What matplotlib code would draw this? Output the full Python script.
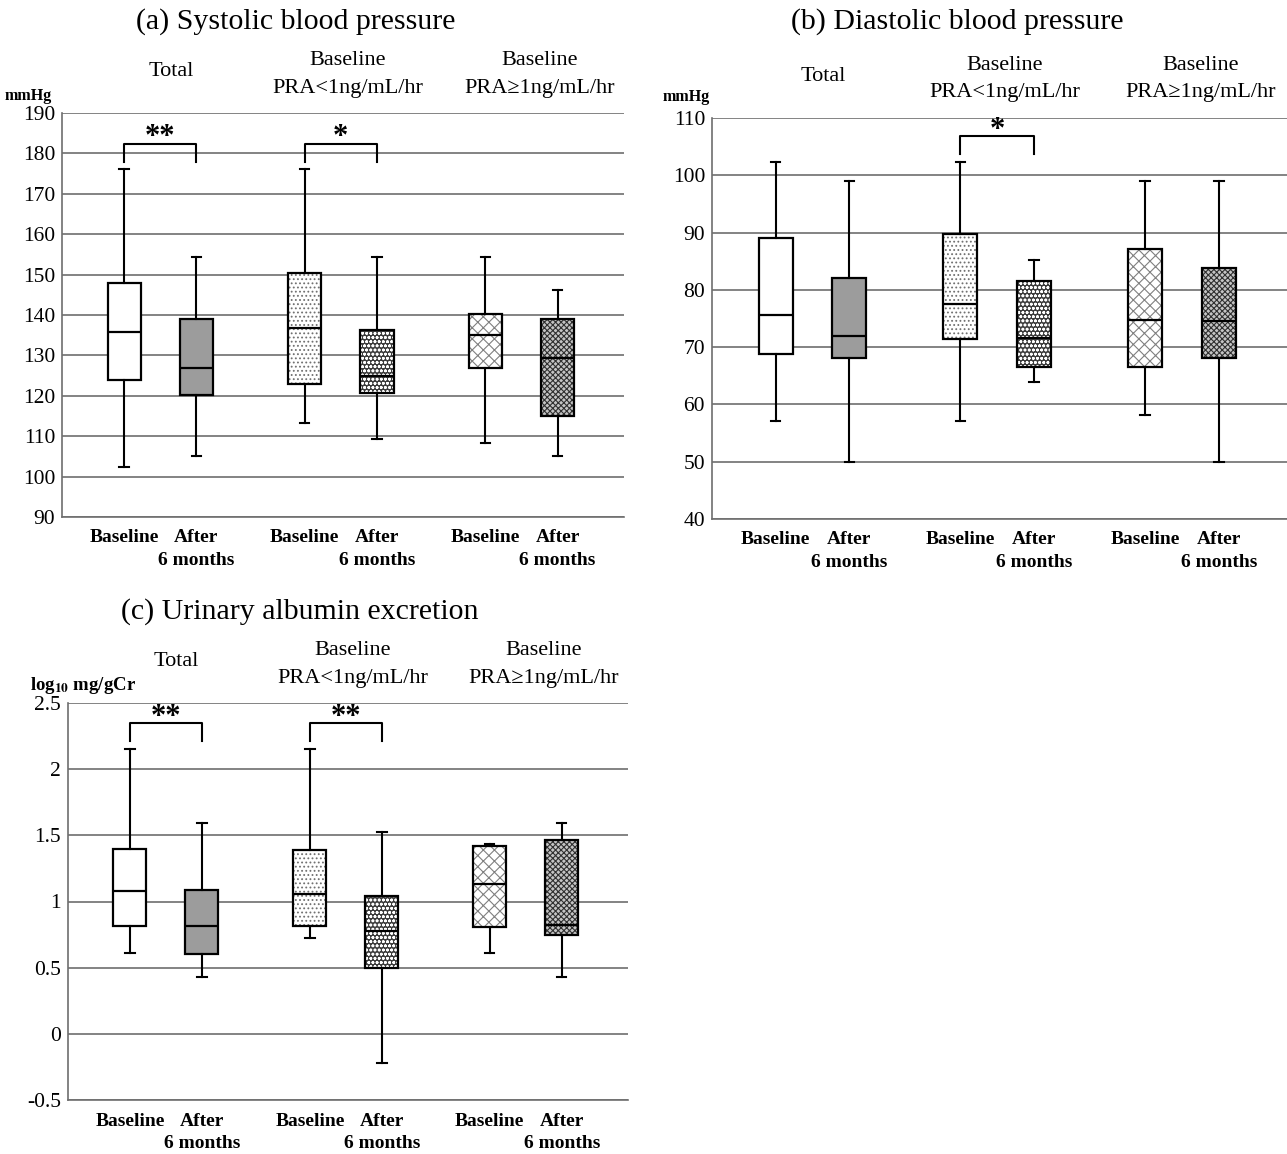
import matplotlib
matplotlib.use("Agg")
import matplotlib.pyplot as plt
from matplotlib.patches import PathPatch

plt.rcParams['font.family'] = ['Liberation Serif', 'DejaVu Serif']
plt.rcParams['mathtext.fontset'] = 'stix'
plt.rcParams['hatch.linewidth'] = 0.8

box_labels = ["Baseline", "After\n6 months"] * 3
group_labels = ["Total", "Baseline\nPRA<1ng/mL/hr", "Baseline\nPRA\u22651ng/mL/hr"]

# five-number summaries: min, q1, median, q3, max
sbp_min = [102.4, 105.1, 113.3, 109.3, 108.2, 105.1]
sbp_q1 = [123.9, 120.2, 123.0, 120.6, 127.0, 115.1]
sbp_med = [135.7, 126.8, 136.7, 125.0, 135.0, 129.3]
sbp_q3 = [147.9, 138.9, 150.3, 136.3, 140.2, 138.9]
sbp_max = [176.2, 154.3, 176.2, 154.3, 154.3, 146.2]

dbp_min = [57.1, 50.0, 57.1, 64.0, 58.1, 50.0]
dbp_q1 = [68.8, 68.1, 71.5, 66.5, 66.5, 68.1]
dbp_med = [75.6, 72.0, 77.6, 71.6, 74.7, 74.6]
dbp_q3 = [89.1, 82.0, 89.8, 81.5, 87.2, 83.8]
dbp_max = [102.3, 99.0, 102.3, 85.2, 99.0, 99.0]

uae_min = [0.613, 0.432, 0.724, -0.22, 0.613, 0.432]
uae_q1 = [0.817, 0.603, 0.812, 0.500, 0.805, 0.744]
uae_med = [1.082, 0.815, 1.057, 0.777, 1.135, 0.822]
uae_q3 = [1.397, 1.089, 1.389, 1.039, 1.417, 1.465]
uae_max = [2.155, 1.593, 2.155, 1.525, 1.432, 1.593]

# significance brackets: (left box, right box, stars)
sbp_sig = [(0, 1, "**"), (2, 3, "*")]
dbp_sig = [(2, 3, "*")]
uae_sig = [(0, 1, "**"), (2, 3, "**")]

positions = [1, 2, 3.5, 4.5, 6, 7]
group_x = [1.65, 4.1, 6.75]
fills = ["white", "#9c9c9c", "white", "#3c3c3c", "white", "#c4c4c4"]
hatches = [None, None, "....", "oooo", "xxx", "xxxxxx"]
hatch_cols = [None, None, "#707070", "white", "#808080", "#303030"]

W, H = 1287, 1154
fig = plt.figure(figsize=(W / 100, H / 100), dpi=100)


def px_axes(l, t, r, b):
    return fig.add_axes([l / W, 1 - b / H, (r - l) / W, (b - t) / H])


def panel(ax, lo, q1, med, q3, hi, yticks, ylabels, sig, br_top, br_leg, star_y):
    stats = []
    for i in range(6):
        stats.append(dict(whislo=lo[i], q1=q1[i], med=med[i], q3=q3[i],
                          whishi=hi[i], fliers=[]))
    bp = ax.bxp(stats, positions=positions, widths=0.46, capwidths=0.13,
                patch_artist=True, showfliers=False,
                boxprops=dict(linewidth=1.6, edgecolor="black"),
                whiskerprops=dict(linewidth=1.5, color="black"),
                capprops=dict(linewidth=1.5, color="black"),
                medianprops=dict(linewidth=1.6, color="black"))
    for b, fc, h, hc in zip(bp["boxes"], fills, hatches, hatch_cols):
        b.set_facecolor(fc)
        b.set_zorder(3)
        if h:
            # hatch takes the edge colour, so redraw the black outline on top
            b.set_hatch(h)
            b.set_edgecolor(hc)
            b.set_linewidth(0.5)
            ax.add_patch(PathPatch(b.get_path(), facecolor="none", edgecolor="black",
                                   linewidth=1.6, zorder=3.5))
    for k in ("whiskers", "caps", "medians"):
        for l in bp[k]:
            l.set_zorder(4)

    ax.set_ylim(yticks[0], yticks[-1])
    ax.set_xlim(0.14, 7.92)
    ax.set_yticks(yticks)
    ax.set_yticklabels(ylabels, fontsize=15.5)
    ax.set_xticks(positions)
    ax.set_xticklabels(box_labels, fontsize=14, fontweight="bold", linespacing=1.4)
    ax.tick_params(axis="both", length=0)
    ax.tick_params(axis="y", pad=5)
    ax.tick_params(axis="x", pad=9)
    ax.grid(axis="y", color="#6e6e6e", linewidth=1.2, zorder=0)
    ax.set_axisbelow(True)
    for s in ("top", "right"):
        ax.spines[s].set_visible(False)
    for s in ("left", "bottom"):
        ax.spines[s].set_color("#6e6e6e")
        ax.spines[s].set_linewidth(1.2)

    for i, j, stars in sig:
        x1, x2 = positions[i], positions[j]
        ax.plot([x1, x1, x2, x2], [br_leg, br_top, br_top, br_leg],
                color="black", linewidth=1.5, zorder=5)
        ax.text((x1 + x2) / 2, star_y, stars, ha="center", va="center",
                fontsize=22, fontweight="bold", zorder=5)

    for gx, gl in zip(group_x, group_labels):
        if "\n" in gl:
            top, bot = gl.split("\n")
            ax.annotate(top, xy=(gx, 1), xycoords=("data", "axes fraction"),
                        xytext=(0, 38), textcoords="offset points",
                        ha="center", va="center", fontsize=16)
            ax.annotate(bot, xy=(gx, 1), xycoords=("data", "axes fraction"),
                        xytext=(0, 18), textcoords="offset points",
                        ha="center", va="center", fontsize=16)
        else:
            ax.annotate(gl, xy=(gx, 1), xycoords=("data", "axes fraction"),
                        xytext=(0, 30), textcoords="offset points",
                        ha="center", va="center", fontsize=16)


ax_a = px_axes(62, 113, 624, 517)
panel(ax_a, sbp_min, sbp_q1, sbp_med, sbp_q3, sbp_max,
      list(range(90, 191, 10)), [str(v) for v in range(90, 191, 10)],
      sbp_sig, 182.4, 177.8, 184.0)

ax_b = px_axes(712, 118, 1287, 519)
panel(ax_b, dbp_min, dbp_q1, dbp_med, dbp_q3, dbp_max,
      list(range(40, 111, 10)), [str(v) for v in range(40, 111, 10)],
      dbp_sig, 106.8, 103.7, 107.8)

uae_ticks = [-0.5, 0, 0.5, 1, 1.5, 2, 2.5]
ax_c = px_axes(68, 703, 628, 1100)
panel(ax_c, uae_min, uae_q1, uae_med, uae_q3, uae_max,
      uae_ticks, ["-0.5", "0", "0.5", "1", "1.5", "2", "2.5"],
      uae_sig, 2.35, 2.21, 2.39)

fig.text(296 / W, 1 - 22 / H, "(a) Systolic blood pressure", ha="center", va="center", fontsize=21.5)
fig.text(957 / W, 1 - 22 / H, "(b) Diastolic blood pressure", ha="center", va="center", fontsize=21.5)
fig.text(300 / W, 1 - 612 / H, "(c) Urinary albumin excretion", ha="center", va="center", fontsize=21.5)

fig.text(52 / W, 1 - 96 / H, "mmHg", ha="right", va="center", fontsize=11.5, fontweight="bold")
fig.text(710 / W, 1 - 97 / H, "mmHg", ha="right", va="center", fontsize=11.5, fontweight="bold")
fig.text(30 / W, 1 - 686 / H, r"log$_{\mathbf{10}}$ mg/gCr", ha="left", va="center",
         fontsize=13.5, fontweight="bold")

fig.savefig("out.png", dpi=100)
